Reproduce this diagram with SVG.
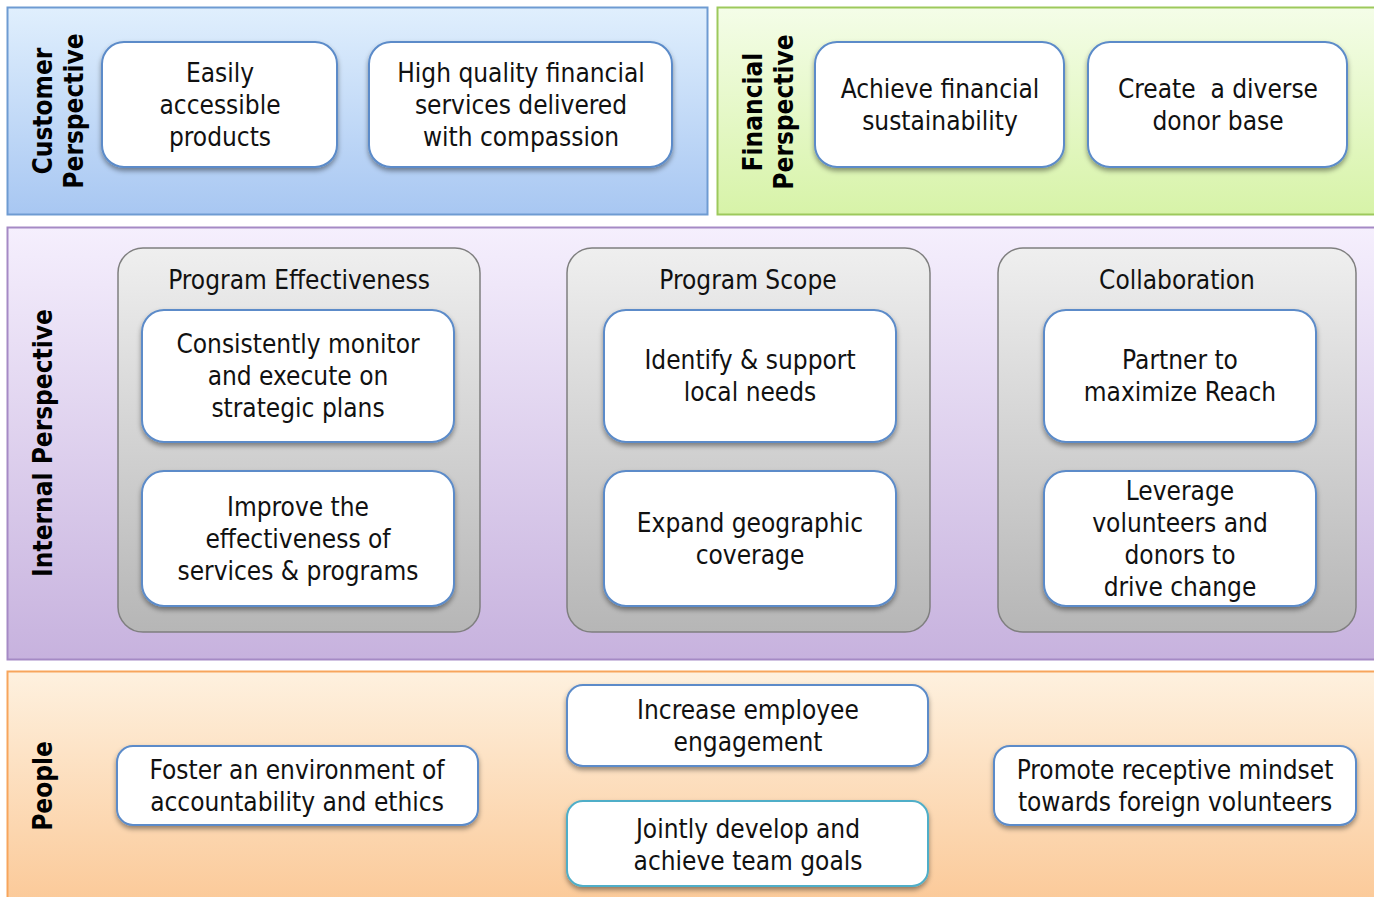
<svg xmlns="http://www.w3.org/2000/svg" width="1374" height="897" viewBox="0 0 1374 897">
<style>
.t{font-family:"DejaVu Sans Condensed","DejaVu Sans",sans-serif;font-stretch:condensed;font-size:26px;fill:#111;text-anchor:middle}
.v{font-family:"DejaVu Sans Condensed","DejaVu Sans",sans-serif;font-stretch:condensed;font-weight:bold;font-size:26px;fill:#000;text-anchor:middle}
.node{fill:#fff;stroke:#5b8bc9;stroke-width:2;filter:url(#sh)}
.grp{fill:url(#gGray);stroke:#7f7f7f;stroke-width:1.5}
</style>
<defs>
<linearGradient id="gBlue" x1="0" y1="0" x2="0" y2="1"><stop offset="0" stop-color="#e0effd"/><stop offset="1" stop-color="#a8c7f2"/></linearGradient>
<linearGradient id="gGreen" x1="0" y1="0" x2="0" y2="1"><stop offset="0" stop-color="#f4fde8"/><stop offset="1" stop-color="#d7f3a8"/></linearGradient>
<linearGradient id="gPurple" x1="0" y1="0" x2="0" y2="1"><stop offset="0" stop-color="#f5effd"/><stop offset="1" stop-color="#c7b2de"/></linearGradient>
<linearGradient id="gOrange" x1="0" y1="0" x2="0" y2="1"><stop offset="0" stop-color="#fef1df"/><stop offset="1" stop-color="#fbc896"/></linearGradient>
<linearGradient id="gGray" x1="0" y1="0" x2="0" y2="1"><stop offset="0" stop-color="#efefef"/><stop offset="1" stop-color="#b6b6b6"/></linearGradient>
<filter id="sh" x="-10%" y="-10%" width="120%" height="130%"><feDropShadow dx="0" dy="3" stdDeviation="2.5" flood-color="#000" flood-opacity="0.4"/></filter>
</defs>

<g id="panels">
<rect id="customer-panel" x="7.5" y="7.5" width="700" height="207" fill="url(#gBlue)" stroke="#6e9bd2" stroke-width="2"/>
<rect id="financial-panel" x="717.5" y="7.5" width="670" height="207" fill="url(#gGreen)" stroke="#9dc95c" stroke-width="2"/>
<rect id="internal-panel" x="7.5" y="227.5" width="1380" height="432" fill="url(#gPurple)" stroke="#a58ac5" stroke-width="2"/>
<rect id="people-panel" x="7.5" y="671.5" width="1380" height="240" fill="url(#gOrange)" stroke="#f7a55c" stroke-width="2"/>
</g>

<g id="labels">
<text class="v" transform="translate(52,111) rotate(-90)">Customer</text>
<text class="v" transform="translate(83,111) rotate(-90)">Perspective</text>
<text class="v" transform="translate(762,112) rotate(-90)">Financial</text>
<text class="v" transform="translate(793,112) rotate(-90)">Perspective</text>
<text class="v" transform="translate(52,443) rotate(-90)">Internal Perspective</text>
<text class="v" transform="translate(52,786) rotate(-90)">People</text>
</g>

<g id="n-easily"><rect class="node" x="102" y="42" width="235" height="125" rx="22"/>
<text class="t" x="220" y="82">Easily</text><text class="t" x="220" y="114">accessible</text><text class="t" x="220" y="146">products</text></g>
<g id="n-quality"><rect class="node" x="369" y="42" width="303" height="125" rx="22"/>
<text class="t" x="521" y="82">High quality financial</text><text class="t" x="521" y="114">services delivered</text><text class="t" x="521" y="146">with compassion</text></g>
<g id="n-sustain"><rect class="node" x="815" y="42" width="249" height="125" rx="22"/>
<text class="t" x="940" y="98">Achieve financial</text><text class="t" x="940" y="130">sustainability</text></g>
<g id="n-donor"><rect class="node" x="1088" y="42" width="259" height="125" rx="22"/>
<text class="t" x="1218" y="98" xml:space="preserve">Create  a diverse</text><text class="t" x="1218" y="130">donor base</text></g>

<g id="g-effectiveness"><rect class="grp" x="118" y="248" width="362" height="384" rx="25"/>
<text class="t" x="299" y="289">Program Effectiveness</text></g>
<g id="g-scope"><rect class="grp" x="567" y="248" width="363" height="384" rx="25"/>
<text class="t" x="748" y="289">Program Scope</text></g>
<g id="g-collab"><rect class="grp" x="998" y="248" width="358" height="384" rx="25"/>
<text class="t" x="1177" y="289">Collaboration</text></g>

<g id="n-monitor"><rect class="node" x="142" y="310" width="312" height="132" rx="22"/>
<text class="t" x="298" y="353">Consistently monitor</text><text class="t" x="298" y="385">and execute on</text><text class="t" x="298" y="417">strategic plans</text></g>
<g id="n-improve"><rect class="node" x="142" y="471" width="312" height="135" rx="22"/>
<text class="t" x="298" y="516">Improve the</text><text class="t" x="298" y="548">effectiveness of</text><text class="t" x="298" y="580">services &amp; programs</text></g>
<g id="n-identify"><rect class="node" x="604" y="310" width="292" height="132" rx="22"/>
<text class="t" x="750" y="369">Identify &amp; support</text><text class="t" x="750" y="401">local needs</text></g>
<g id="n-expand"><rect class="node" x="604" y="471" width="292" height="135" rx="22"/>
<text class="t" x="750" y="532">Expand geographic</text><text class="t" x="750" y="564">coverage</text></g>
<g id="n-partner"><rect class="node" x="1044" y="310" width="272" height="132" rx="22"/>
<text class="t" x="1180" y="369">Partner to</text><text class="t" x="1180" y="401">maximize Reach</text></g>
<g id="n-leverage"><rect class="node" x="1044" y="471" width="272" height="135" rx="22"/>
<text class="t" x="1180" y="500">Leverage</text><text class="t" x="1180" y="532">volunteers and</text><text class="t" x="1180" y="564">donors to</text><text class="t" x="1180" y="596">drive change</text></g>

<g id="n-foster"><rect class="node" x="117" y="746" width="361" height="79" rx="16"/>
<text class="t" x="297" y="779">Foster an environment of</text><text class="t" x="297" y="811">accountability and ethics</text></g>
<g id="n-engage"><rect class="node" x="567" y="685" width="361" height="81" rx="16"/>
<text class="t" x="748" y="719">Increase employee</text><text class="t" x="748" y="751">engagement</text></g>
<g id="n-team"><rect class="node" x="567" y="801" width="361" height="85" rx="16" style="stroke:#4faec8"/>
<text class="t" x="748" y="838">Jointly develop and</text><text class="t" x="748" y="870">achieve team goals</text></g>
<g id="n-promote"><rect class="node" x="994" y="746" width="362" height="79" rx="16"/>
<text class="t" x="1175" y="779">Promote receptive mindset</text><text class="t" x="1175" y="811">towards foreign volunteers</text></g>

<g id="connectors"></g>
</svg>
